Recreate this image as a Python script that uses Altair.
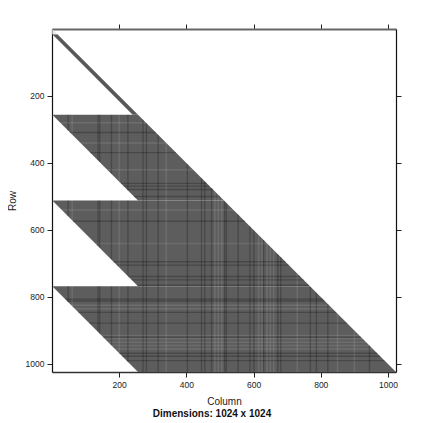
import altair as alt
import pandas as pd

# filled regions: first row, last row, left column at first row, left column at last row
region_r0 = [1, 16, 256, 512, 768]
region_r1 = [16, 256, 512, 768, 1024]
region_l0 = [1, 1, 1, 1, 1]
region_l1 = [1, 240, 256, 256, 256]
region_fill = ["#e8e8e8", "#585858", "#5d5d5d", "#5d5d5d", "#5d5d5d"]

dark_cols = [48, 137, 142, 177, 226, 271, 281, 316, 403, 445, 455, 475, 514, 519, 554, 589,
             601, 630, 672, 681, 769, 787, 821, 945]
dark_rows = [309, 369, 461, 469, 479, 500, 574, 695, 705, 739, 749, 765, 807, 812, 846, 878,
             920, 968, 977, 990]
light_cols = [60, 200, 340, 485, 495, 505, 615, 625, 640, 650, 660, 730, 850, 900]
light_rows = [280, 340, 420, 540, 640, 825, 835, 915, 925, 935, 945, 955]
x_ticks = [200, 400, 600, 800, 1000]
y_ticks = [200, 400, 600, 800, 1000]


def left(i, r):
    t = (r - region_r0[i]) / (region_r1[i] - region_r0[i])
    return region_l0[i] + t * (region_l1[i] - region_l0[i])


area_rows = []
for i in range(1, 5):
    for r, l in ((region_r0[i], region_l0[i]), (region_r1[i], region_l1[i])):
        area_rows.append({"reg": str(i), "row": r, "lo": l, "hi": r, "fill": region_fill[i]})
areas = pd.DataFrame(area_rows)
tri = pd.DataFrame([{"row": 1, "lo": 1, "hi": 1}, {"row": 16, "lo": 1, "hi": 16}])


def v_segments(c):
    out = []
    for i in range(2, 5):
        r0, r1 = region_r0[i], region_r1[i]
        top, bot = None, None
        for r in range(r0, r1 + 1):
            if left(i, r) <= c <= r:
                top = r if top is None else top
                bot = r
        if top is not None:
            out.append({"x": c, "x2": c, "y": top, "y2": bot})
    return out


def h_segment(r):
    for i in range(2, 5):
        if region_r0[i] <= r <= region_r1[i]:
            return [{"x": left(i, r), "x2": r, "y": r, "y2": r}]
    return []


dark = pd.DataFrame([s for c in dark_cols for s in v_segments(c)] +
                    [s for r in dark_rows for s in h_segment(r)])
light = pd.DataFrame([s for c in light_cols for s in v_segments(c)] +
                     [s for r in light_rows for s in h_segment(r)])

xs = alt.Scale(domain=[0, 1024], nice=False, zero=False)
ys = alt.Scale(domain=[0, 1024], reverse=True, nice=False, zero=False)
ax = dict(labelFont="Liberation Sans", labelFontSize=8.5, labelColor="#222222", tickColor="#222222",
          tickSize=5, grid=False, titleFont="Liberation Sans", titleFontSize=10,
          titleFontWeight="normal", titleColor="#222222", labelPadding=3, format="d")

fill = alt.Color("fill:N", scale=None)

main = alt.Chart(areas).mark_area(orient="horizontal", interpolate="linear").encode(
    x=alt.X("lo:Q", scale=xs, axis=None), x2="hi:Q",
    y=alt.Y("row:Q", scale=ys, axis=None), color=fill, detail="reg:N")
top_tri = alt.Chart(tri).mark_area(orient="horizontal", color="#e8e8e8").encode(
    x=alt.X("lo:Q", scale=xs, axis=None), x2="hi:Q", y=alt.Y("row:Q", scale=ys, axis=None))


def seg(df, color, op, w):
    return alt.Chart(df).mark_rule(color=color, opacity=op, strokeWidth=w).encode(
        x=alt.X("x:Q", scale=xs, axis=None), x2="x2:Q",
        y=alt.Y("y:Q", scale=ys, axis=None), y2="y2:Q")


anchor = pd.DataFrame({"lo": [200], "row": [200]})
axes_bl = alt.Chart(anchor).mark_point(opacity=0).encode(
    x=alt.X("lo:Q", scale=xs, axis=alt.Axis(values=x_ticks, title="Column", orient="bottom",
                                            domainColor="#333333", domainWidth=1.5, titlePadding=8, **ax)),
    y=alt.Y("row:Q", scale=ys, axis=alt.Axis(values=y_ticks, title="Row", orient="left",
                                             domainColor="#111111", domainWidth=1.2, titlePadding=8, **ax)))
axes_tr = alt.Chart(anchor).mark_point(opacity=0).encode(
    x=alt.X("lo:Q", scale=xs, axis=alt.Axis(values=x_ticks, orient="top", labels=False, title=None,
                                            ticks=True, tickSize=5, tickColor="#222222", grid=False,
                                            domainColor="#666666", domainWidth=2)),
    y=alt.Y("row:Q", scale=ys, axis=alt.Axis(values=y_ticks, orient="right", labels=False, title=None,
                                             ticks=True, tickSize=5, tickColor="#222222", grid=False,
                                             domainColor="#111111", domainWidth=1.2)))

caption = alt.Chart(pd.DataFrame({"t": ["Dimensions: 1024 x 1024"]})).mark_text(
    font="Liberation Sans", fontSize=10, fontWeight="bold", color="#111111", align="center").encode(
    text="t:N", x=alt.value(160), y=alt.value(385))

chart = alt.layer(
    main, top_tri, seg(light, "#ffffff", 0.1, 1.5), seg(dark, "#000000", 0.22, 1.4), axes_bl, axes_tr, caption
).resolve_axis(x="independent", y="independent").properties(
    width=344, height=343,
    autosize=alt.AutoSizeParams(type="none"),
    padding={"left": 44, "top": 21, "right": 15, "bottom": 50},
).configure_view(stroke=None)

chart.save("out.html", embed_options={"renderer": "svg", "actions": False})
